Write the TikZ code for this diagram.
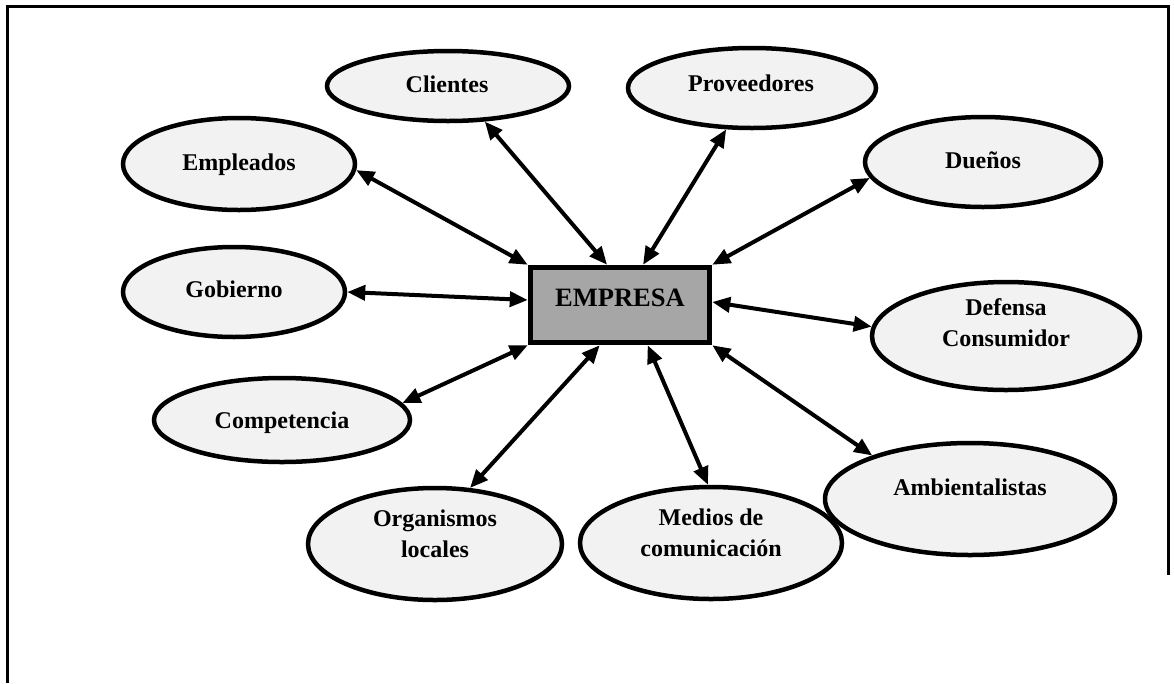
\documentclass[tikz,border=0pt]{standalone}
\usepackage{fontspec}
\setmainfont{Liberation Serif}
\usetikzlibrary{arrows.meta,calc,shapes.geometric}
\begin{document}
\begin{tikzpicture}[x=1pt,y=-1pt,
  oval/.style={ellipse,draw=black,line width=4.5pt,fill=ovalfill,inner sep=0pt},
  lbl/.style={font=\fontsize{24}{31}\selectfont\bfseries,align=center,inner sep=0pt,text height=16pt,text depth=0pt},
  box/.style={rectangle,draw=black,line width=5.5pt,fill=boxfill,minimum width=179pt,minimum height=75pt,inner sep=0pt},
  link/.style={line width=4pt,{Triangle[length=18pt,width=15pt]}-{Triangle[length=18pt,width=15pt]}},
  frame/.style={line width=3pt}]
\definecolor{ovalfill}{HTML}{F2F2F2}
\definecolor{boxfill}{HTML}{A6A6A6}
\useasboundingbox (0,0) rectangle (1174,683);
% frame
\coordinate (f1) at (7,683);
\coordinate (f2) at (7,6);
\coordinate (f3) at (1168,6);
\coordinate (f4) at (1168,575);
\draw[frame] (f1) -- (f2) -- (f3) -- (f4);
% center
\node[box] (E) at (620,305) {};
\node[font=\fontsize{26.5}{30}\selectfont\bfseries,inner sep=0pt,text height=17pt,text depth=0pt] (Et) at (620,298) {EMPRESA};
% ellipses
\node[oval,minimum width=242pt,minimum height=70pt] (cli) at (448,86) {};
\node[oval,minimum width=248pt,minimum height=80pt] (pro) at (752,88) {};
\node[oval,minimum width=232pt,minimum height=92pt] (emp) at (239,164) {};
\node[oval,minimum width=236pt,minimum height=90pt] (due) at (983,162) {};
\node[oval,minimum width=222pt,minimum height=90pt] (gob) at (234,292) {};
\node[oval,minimum width=256pt,minimum height=84pt] (com) at (282,420) {};
\node[oval,minimum width=268pt,minimum height=108pt] (def) at (1006,336) {};
\node[oval,minimum width=290pt,minimum height=112pt] (amb) at (970,499) {};
\node[oval,minimum width=254pt,minimum height=112pt] (org) at (435,544) {};
\node[oval,minimum width=262pt,minimum height=112pt] (med) at (711,543) {};
% labels
\node[lbl] (clit) at (447,84) {Clientes};
\node[lbl] (prot) at (751,83) {Proveedores};
\node[lbl] (empt) at (239,162) {Empleados};
\node[lbl] (duet) at (983,160) {Dueños};
\node[lbl] (gobt) at (234,289) {Gobierno};
\node[lbl] (comt) at (282,420) {Competencia};
\node[lbl] (deft) at (1006,338) {Defensa\\Consumidor};
\node[lbl] (ambt) at (970,487) {Ambientalistas};
\node[lbl] (orgt) at (435,549) {Organismos\\locales};
\node[lbl] (medt) at (711,548) {Medios de\\comunicación};
% connectors
\draw[link] (emp.-3) -- (E.north west);
\draw[link] (cli.-44) -- ($(E.north west)!0.43!(E.north east)$);
\draw[link] (pro.-122) -- ($(E.north west)!0.625!(E.north east)$);
\draw[link] (due.-172) -- (E.north east);
\draw[link] (gob.0) -- ($(E.west)+(0,-5)$);
\draw[link] (def.176) -- ($(E.east)+(0,-3)$);
\draw[link] (com.8) -- (E.south west);
\draw[link] (org.58) -- ($(E.south west)!0.39!(E.south east)$);
\draw[link] (med.93) -- ($(E.south west)!0.65!(E.south east)$);
\draw[link] (amb.156) -- (E.south east);
\end{tikzpicture}
\end{document}
